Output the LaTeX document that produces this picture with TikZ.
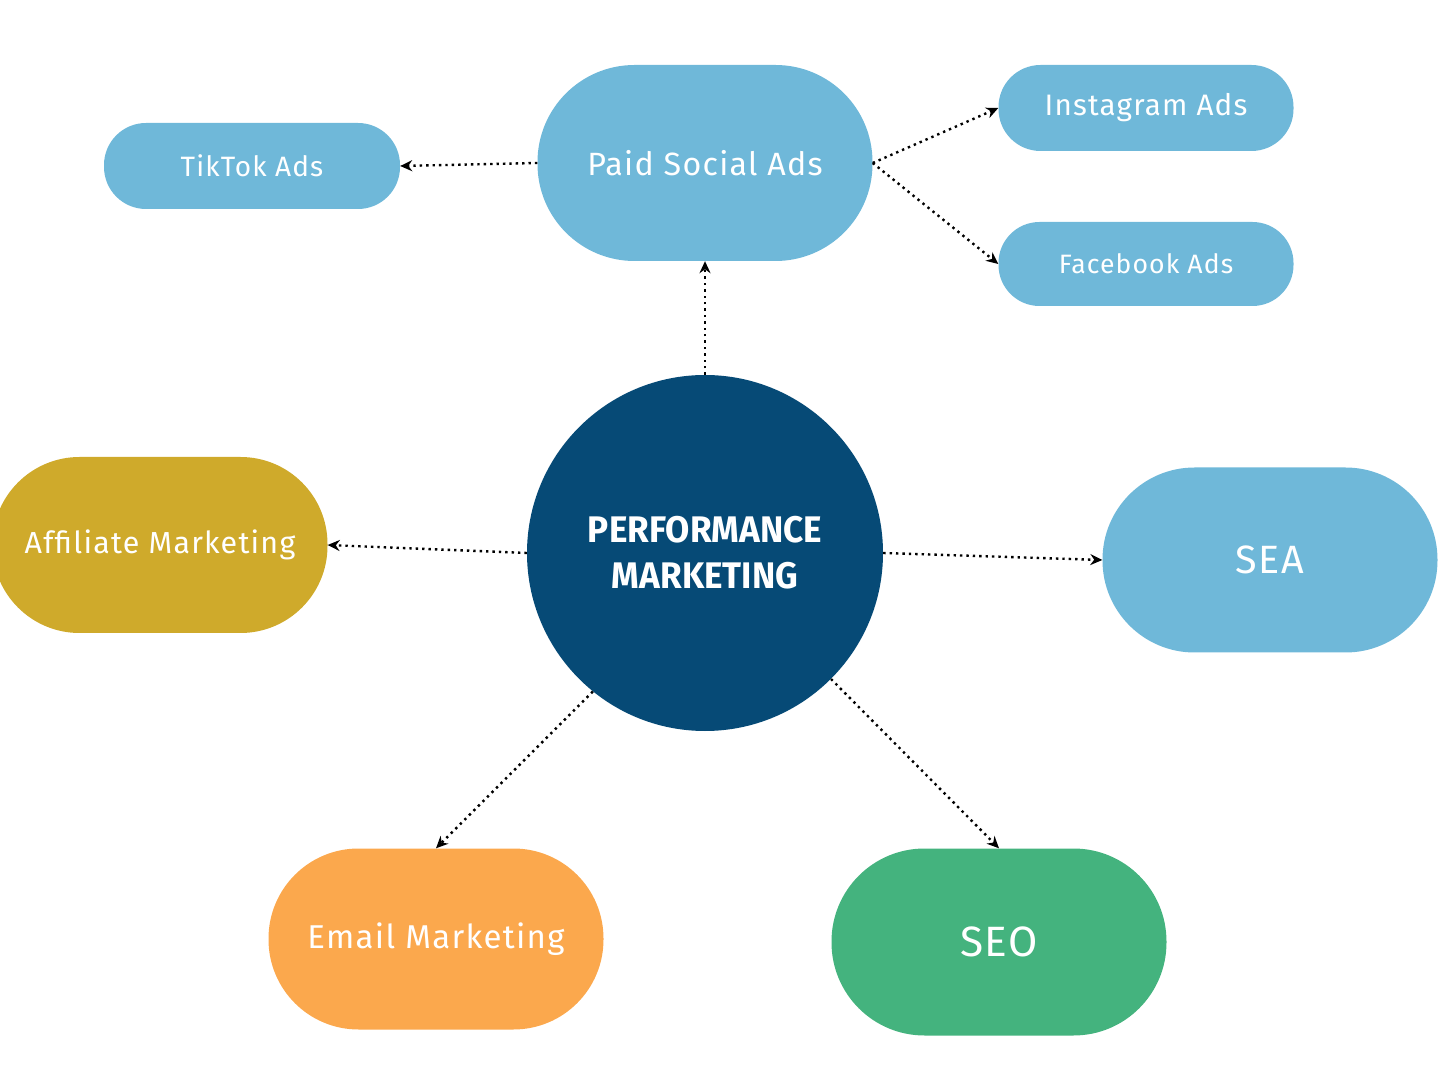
\documentclass[tikz,border=0pt]{standalone}
\usepackage{fontspec}
\setmainfont[LetterSpace=4]{Fira Sans}
\newfontfamily\titlefont[FakeStretch=0.95]{Fira Sans}
\usepackage{xcolor}
\usetikzlibrary{arrows.meta,positioning}

\definecolor{skyblue}{HTML}{6FB8D9}
\definecolor{navyblue}{HTML}{064A76}
\definecolor{mustard}{HTML}{CFAA2B}
\definecolor{apricot}{HTML}{FBA84D}
\definecolor{jade}{HTML}{44B37E}

\begin{document}
\begin{tikzpicture}[x=1pt, y=1pt, >=Stealth,
		pill/.style={fill=#1, text=white, inner sep=0pt},
		link/.style={line width=2.4pt, dash pattern=on 2.4pt off 4pt, -{Stealth[length=12pt, width=11pt]}}]
		% Page frame
		\useasboundingbox (0,0) rectangle (1440,1080);
		% Central circle
		\node[circle, fill=navyblue, minimum size=356pt, text=white, align=center, font=\titlefont\bfseries\fontsize{37}{46}\selectfont] (pm) at (705,527) {PERFORMANCE\\MARKETING};
		% Upper group
		\node[pill=skyblue, minimum width=335pt, minimum height=196pt, rounded corners=97pt, font=\fontsize{32.2}{36}\selectfont] (paid) at (705,917) {Paid Social Ads};
		\node[pill=skyblue, minimum width=296pt, minimum height=86pt, rounded corners=42pt, font=\fontsize{28}{30}\selectfont] (tiktok) at (252,914) {TikTok Ads};
		\node[pill=skyblue, minimum width=295pt, minimum height=86pt, rounded corners=42pt, font=\fontsize{29.6}{30}\selectfont] (insta) at (1146,972) {Instagram Ads};
		\node[pill=skyblue, minimum width=295pt, minimum height=84pt, rounded corners=41pt, font=\fontsize{26.6}{30}\selectfont] (fb) at (1146,816) {Facebook Ads};
		% Side and lower nodes
		\node[pill=mustard, minimum width=335pt, minimum height=176pt, rounded corners=87pt, font=\fontsize{30.4}{36}\selectfont] (affil) at (160,535) {Affiliate Marketing};
		\node[pill=skyblue, minimum width=335pt, minimum height=185pt, rounded corners=92pt, font=\fontsize{39.5}{40}\selectfont] (sea) at (1270,520) {SEA};
		\node[pill=apricot, minimum width=335pt, minimum height=181pt, rounded corners=90pt, font=\fontsize{33}{36}\selectfont] (email) at (436,141) {Email Marketing};
		\node[pill=jade, minimum width=335pt, minimum height=187pt, rounded corners=93pt, font=\fontsize{42.4}{42}\selectfont] (seo) at (999,138) {SEO};
		% Dotted connectors
		\draw[link] (pm.north) -- (paid.south);
		\draw[link] (paid.west) -- (tiktok.east);
		\draw[link] (paid.east) -- (insta.west);
		\draw[link] (paid.east) -- (fb.west);
		\draw[link] (pm.west) -- (affil.east);
		\draw[link] (pm.east) -- (sea.west);
		\draw[link] (pm.-129) -- (email.north);
		\draw[link] (pm.-45) -- (seo.north);
	\end{tikzpicture}
\end{document}
